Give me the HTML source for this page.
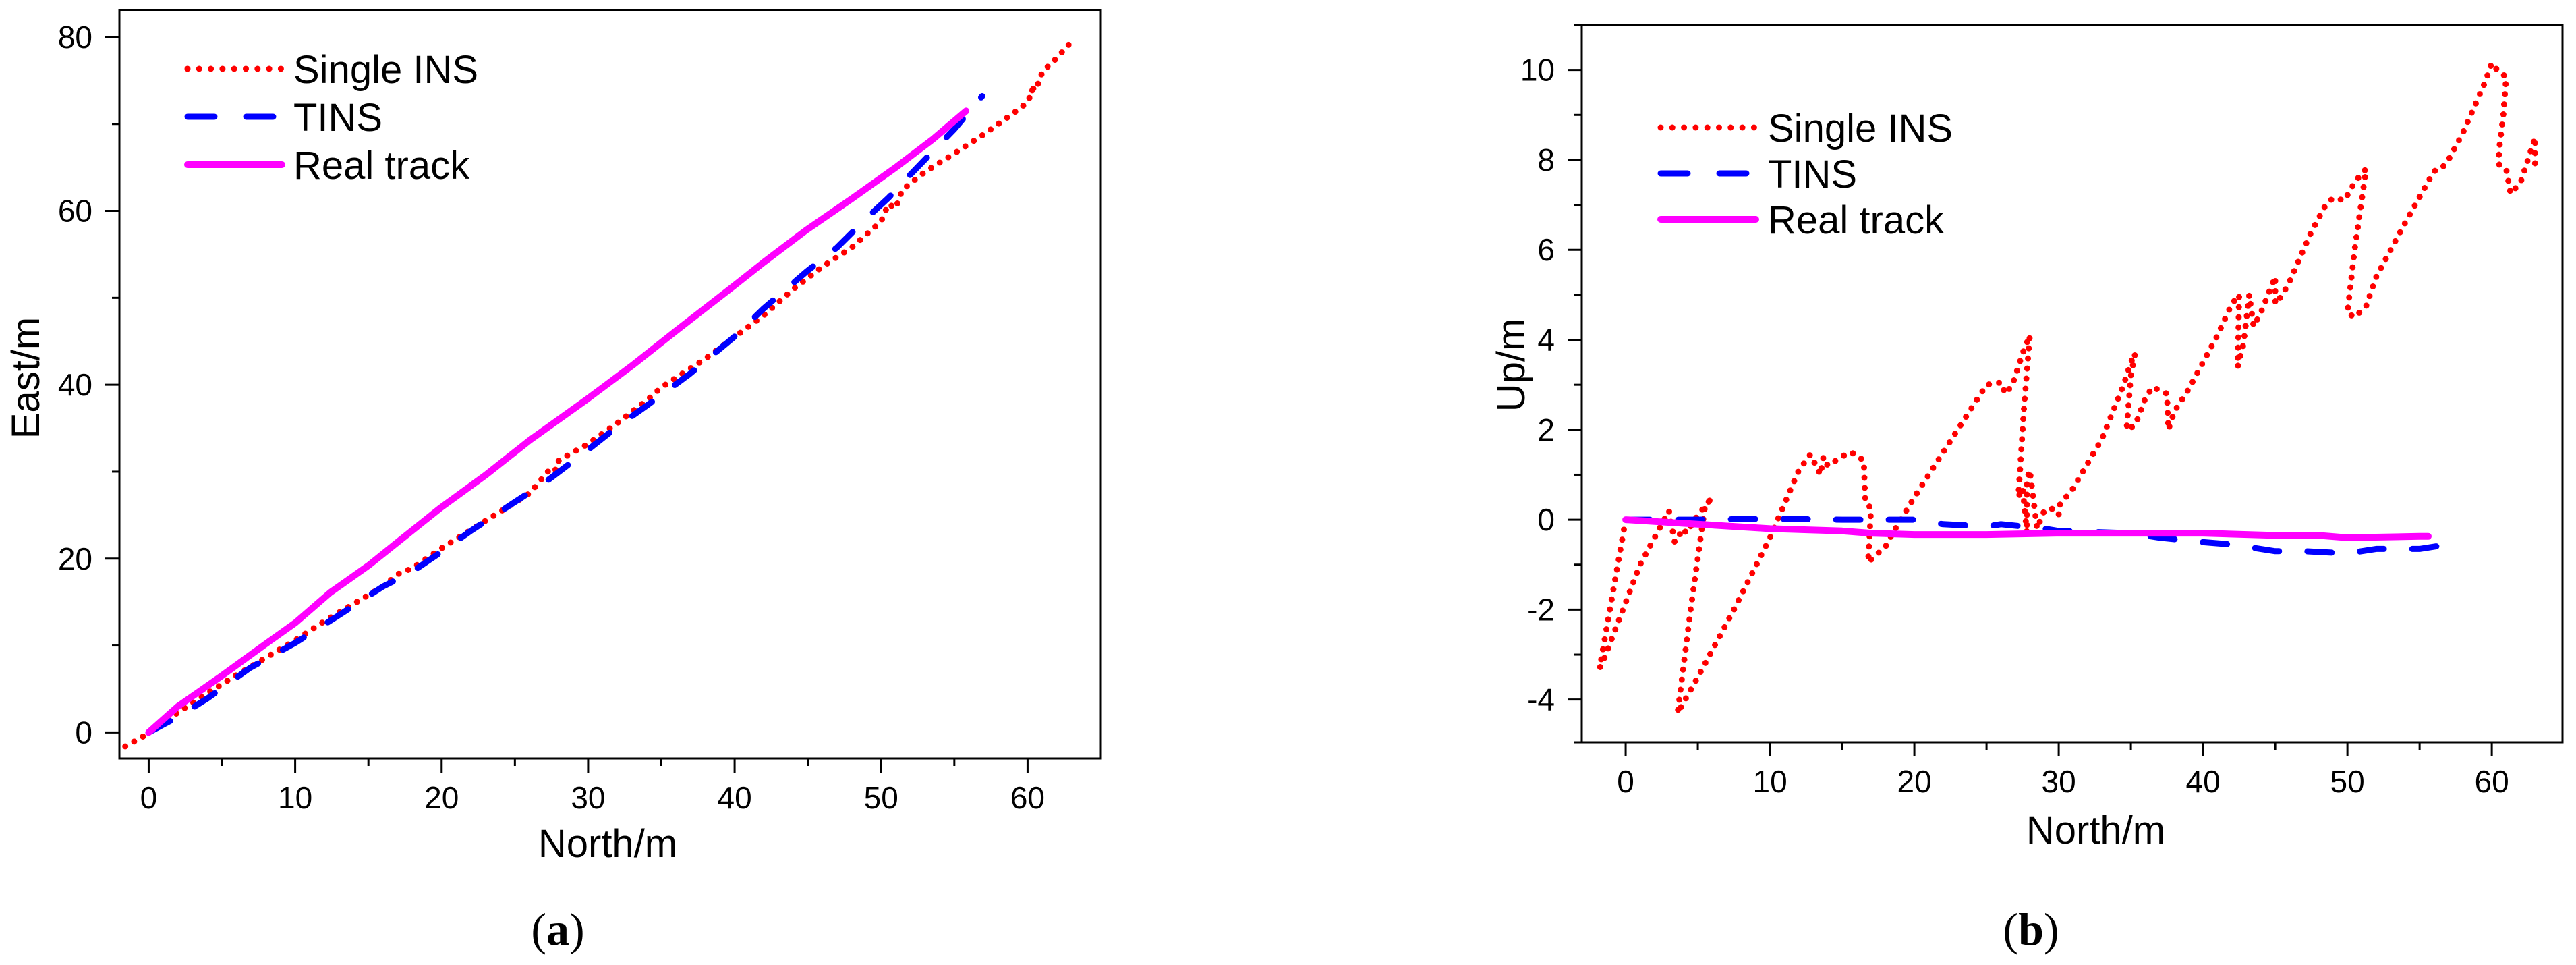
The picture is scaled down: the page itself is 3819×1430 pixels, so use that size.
<!DOCTYPE html>
<html><head><meta charset="utf-8"><style>
html,body{margin:0;padding:0;background:#fff;}
svg{display:block;font-family:"Liberation Sans",Arial,sans-serif;}
</style></head><body>
<svg id="fig" width="3819" height="1430" viewBox="0 0 3819 1430" xmlns="http://www.w3.org/2000/svg">
<g id="chartA"></g>
<g id="chartB"></g>
<text x="827" y="1400" text-anchor="middle" font-family="Liberation Serif, serif" font-size="68"><tspan>(</tspan><tspan font-weight="bold">a</tspan><tspan>)</tspan></text>
<text x="3011" y="1400" text-anchor="middle" font-family="Liberation Serif, serif" font-size="68"><tspan>(</tspan><tspan font-weight="bold">b</tspan><tspan>)</tspan></text>
</svg>
<script>
// ---- Chart A data ----
const aInsX = [-1.6,-0.5,0,2,4,6,8,10,12,14,16,17,18,20,22,24,26,27,27.5,27.8,28,30,32,34,35,36,38,40,42,44,46,48,50,50.5,51,51.3,51.5,53,55,57,59,60,60.5,60.3,60.8,61,62,63];
const aInsY = [-1.6,-0.6,0,2.3,4.5,6.6,8.6,10.6,12.8,14.8,16.8,18.2,18.9,21.2,23.3,25.4,27.5,29.5,30.5,30.2,31.3,33.2,35.6,38.2,39.7,40.8,43,45.5,48,51,53.6,55.8,58.8,60.8,60.3,61.8,62.5,64.5,66.6,68.8,71.2,72.5,74.5,73.8,74.8,76,77.6,79.5];
const aTinsX = [0,2,4,6.9,10,13,16,17.9,20,22,24.9,27,29.9,32,34,36.9,39.9,42,44.9,47,48.9,50.5,51.9,53.5,55,56.9];
const aTinsY = [0,1.8,3.9,7.4,10.3,13.5,16.8,18.4,20.8,23.2,26.4,28.7,32.4,35.2,37.6,41.2,45.4,48.8,53,55.8,59,61.5,64,66.8,69.4,73.2];
const aRealX = [0,2,4.9,8,10,12.4,15,17,19.9,23,26,29.9,33,36,39.9,42,44.9,48,51,53.5,55.8];
const aRealY = [0,3,6.4,10.2,12.6,16.1,19.2,21.9,25.8,29.6,33.6,38.3,42.2,46.2,51.3,54.1,57.8,61.4,65.0,68.2,71.5];
const aXTicks = [0,10,20,30,40,50,60];
const aYTicks = [0,20,40,60,80];

// ---- Chart B data ----
const bInsX = [0,-1.8,-1.5,1,3,3.4,4,4.2,5,5.5,6,5.5,4.5,3.6,5,7.5,10,12,12.8,13.5,13.7,14,15.5,16,16.5,16.6,17,16.8,17.3,18,18.5,20,22,25,26,26.3,26.8,27.2,27.5,28,27.6,27.2,27.5,27.8,27.8,28,28.5,29,29.5,30,30,31,33,34.5,35,35.3,35,34.7,35.3,36,36.5,37.5,37.6,38,39,41,42,42.5,42.4,42.8,43.2,43.5,44,45,45,45.5,46,47.5,48.5,49,49.8,50.5,51,51.3,50.5,50,50.5,51.3,52,54,56,56.5,57,58,59.5,60,60.5,61,60.8,60.5,60.5,61,61.3,62,62.5,62.8,63,63];
const bInsY = [0,-3.3,-3.1,-1,0.2,-0.5,-0.2,-0.3,0.1,0.3,0.5,0.3,-2,-4.3,-3.5,-2,-0.4,1.1,1.45,1.0,1.4,1.2,1.5,1.45,1.3,0.4,0.25,-0.95,-0.8,-0.6,-0.3,0.5,1.5,3.0,3.05,2.8,3.0,3.4,3.7,4.1,2.5,0.5,0.7,-0.3,0.9,1.1,-0.2,0.2,0.25,0.1,0.3,0.7,1.8,3.0,3.5,3.7,3.2,2.0,2.1,2.7,2.95,2.8,2.0,2.4,2.9,4.1,4.8,5.0,3.4,3.9,5.0,4.3,4.6,5.4,4.8,5.0,5.3,6.4,7.0,7.15,7.1,7.5,7.7,7.8,6.0,4.6,4.5,4.75,5.4,6.6,7.75,7.8,8.0,8.6,9.7,10.15,9.95,9.85,9.0,8.2,7.9,7.8,7.25,7.5,8.0,8.3,8.5,7.8];
const bTinsX = [0,5,10,15,20,22,25,26,29,30,35,37,40,42,45,47,50,52,55,57,58];
const bTinsY = [0,0,0.02,0,0,-0.1,-0.15,-0.1,-0.2,-0.25,-0.3,-0.4,-0.5,-0.55,-0.7,-0.7,-0.75,-0.65,-0.65,-0.55,-0.5];
const bRealX = [0,5,10,15,17,20,25,30,40,45,48,50,55,55.6];
const bRealY = [0,-0.1,-0.2,-0.25,-0.3,-0.33,-0.33,-0.3,-0.3,-0.35,-0.35,-0.4,-0.37,-0.37];
const bXTicks = [0,10,20,30,40,50,60];
const bYTicks = [-4,-2,0,2,4,6,8,10];

const NS = "http://www.w3.org/2000/svg";
function mk(parent, tag, attrs){
  const e = document.createElementNS(NS, tag);
  for (const k in attrs) e.setAttribute(k, attrs[k]);
  parent.appendChild(e);
  return e;
}
function linScale(d0,d1,r0,r1){ return v => r0 + (v-d0)/(d1-d0)*(r1-r0); }

function drawChart(g, cfg, series, xTicks, yTicks){
  const sx = linScale(cfg.xmin, cfg.xmax, cfg.L, cfg.R);
  const sy = linScale(cfg.ymin, cfg.ymax, cfg.B, cfg.T);
  series.forEach(s => {
    const pts = s.x.map((v,i) => sx(v).toFixed(1)+","+sy(s.y[i]).toFixed(1)).join(" ");
    const p = mk(g, "polyline", {points: pts, fill:"none", stroke:s.color, "stroke-width":s.w, "stroke-linecap":"round", "stroke-linejoin":"round"});
    if (s.dash) p.setAttribute("stroke-dasharray", s.dash);
    
    
  });
  const fr = mk(g, "rect", {x:cfg.L, y:cfg.T, width:cfg.R-cfg.L, height:cfg.B-cfg.T, fill:"none", stroke:"#000", "stroke-width":3});
  
  
  if (cfg.ext){
    const e1 = mk(g, "line", {x1:cfg.L-cfg.ext, x2:cfg.L, y1:cfg.B, y2:cfg.B, stroke:"#000", "stroke-width":3});
    
    
    const e2 = mk(g, "line", {x1:cfg.L-cfg.ext, x2:cfg.L, y1:cfg.T, y2:cfg.T, stroke:"#000", "stroke-width":3});
    
    
  }
  xTicks.forEach((t,i) => {
    const x = sx(t);
    const tk = mk(g, "line", {x1:x, x2:x, y1:cfg.B, y2:cfg.B+21, stroke:"#000", "stroke-width":3});
    
    
    const lb = mk(g, "text", {x:x, y:cfg.B+74, "text-anchor":"middle", "font-size":46});
    lb.textContent = t;
    
    
    const m = t + cfg.xminor;
    if (m < cfg.xmax){
      const mx = sx(m);
      const mt = mk(g, "line", {x1:mx, x2:mx, y1:cfg.B, y2:cfg.B+11, stroke:"#000", "stroke-width":3});
      
      
    }
  });
  yTicks.forEach(t => {
    const y = sy(t);
    const tk = mk(g, "line", {x1:cfg.L-21, x2:cfg.L, y1:y, y2:y, stroke:"#000", "stroke-width":3});
    
    
    const lb = mk(g, "text", {x:cfg.L-40, y:y+16, "text-anchor":"end", "font-size":46});
    lb.textContent = t;
    
    
    const m = t + cfg.yminor;
    if (m < cfg.ymax){
      const my = sy(m);
      const mt = mk(g, "line", {x1:cfg.L-11, x2:cfg.L, y1:my, y2:my, stroke:"#000", "stroke-width":3});
      
      
    }
  });
  const xt = mk(g, "text", {x:cfg.xtX, y:cfg.xtY, "text-anchor":"middle", "font-size":58});
  xt.textContent = "North/m";
  
  
  const yt = mk(g, "text", {x:0, y:0, "text-anchor":"middle", "font-size":58, transform:"translate("+cfg.ytX+","+cfg.ytY+") rotate(-90)"});
  yt.textContent = cfg.ytitle;
  
  
  const lg = mk(g, "g", {});
  
  
  series.forEach((s,i) => {
    const y = cfg.legRows[i];
    const ln = mk(lg, "line", {x1:cfg.legX1, x2:cfg.legX2, y1:y, y2:y, stroke:s.color, "stroke-width":s.w, "stroke-linecap":"round"});
    if (s.legDash) ln.setAttribute("stroke-dasharray", s.legDash);
    
    
    const tx = mk(lg, "text", {x:cfg.legTX, y:y+21, "font-size":58});
    tx.textContent = s.label;
    
    
  });
}

const gA = document.getElementById("chartA");
drawChart(gA, {L:177,R:1632,T:15,B:1124,xmin:-2,xmax:65,ymin:-3,ymax:83.1,xminor:5,yminor:10,
  xtX:901,xtY:1270,ytX:58,ytY:560,ytitle:"East/m",
  legRows:[102,173,244],legX1:278,legX2:418,legTX:435}, [
  {name:"series-single-ins", label:"Single INS", x:aInsX, y:aInsY, color:"#ff0000", w:9, dash:"0 15", legDash:"0 17.3"},
  {name:"series-tins", label:"TINS", x:aTinsX, y:aTinsY, color:"#0000ff", w:9, dash:"36 42", legDash:"40 47"},
  {name:"series-real-track", label:"Real track", x:aRealX, y:aRealY, color:"#ff00ff", w:10}
], aXTicks, aYTicks);

const gB = document.getElementById("chartB");
drawChart(gB, {L:2345,R:3799,T:37,B:1100,xmin:-3.04,xmax:64.9,ymin:-4.95,ymax:11,xminor:5,yminor:1,ext:12,
  xtX:3107,xtY:1250,ytX:2260,ytY:541,ytitle:"Up/m",
  legRows:[189,257,325],legX1:2462,legX2:2603,legTX:2621}, [
  {name:"series-single-ins", label:"Single INS", x:bInsX, y:bInsY, color:"#ff0000", w:9, dash:"0 15", legDash:"0 17.3"},
  {name:"series-tins", label:"TINS", x:bTinsX, y:bTinsY, color:"#0000ff", w:9, dash:"36 42", legDash:"40 47"},
  {name:"series-real-track", label:"Real track", x:bRealX, y:bRealY, color:"#ff00ff", w:10}
], bXTicks, bYTicks);
</script>
</body></html>
